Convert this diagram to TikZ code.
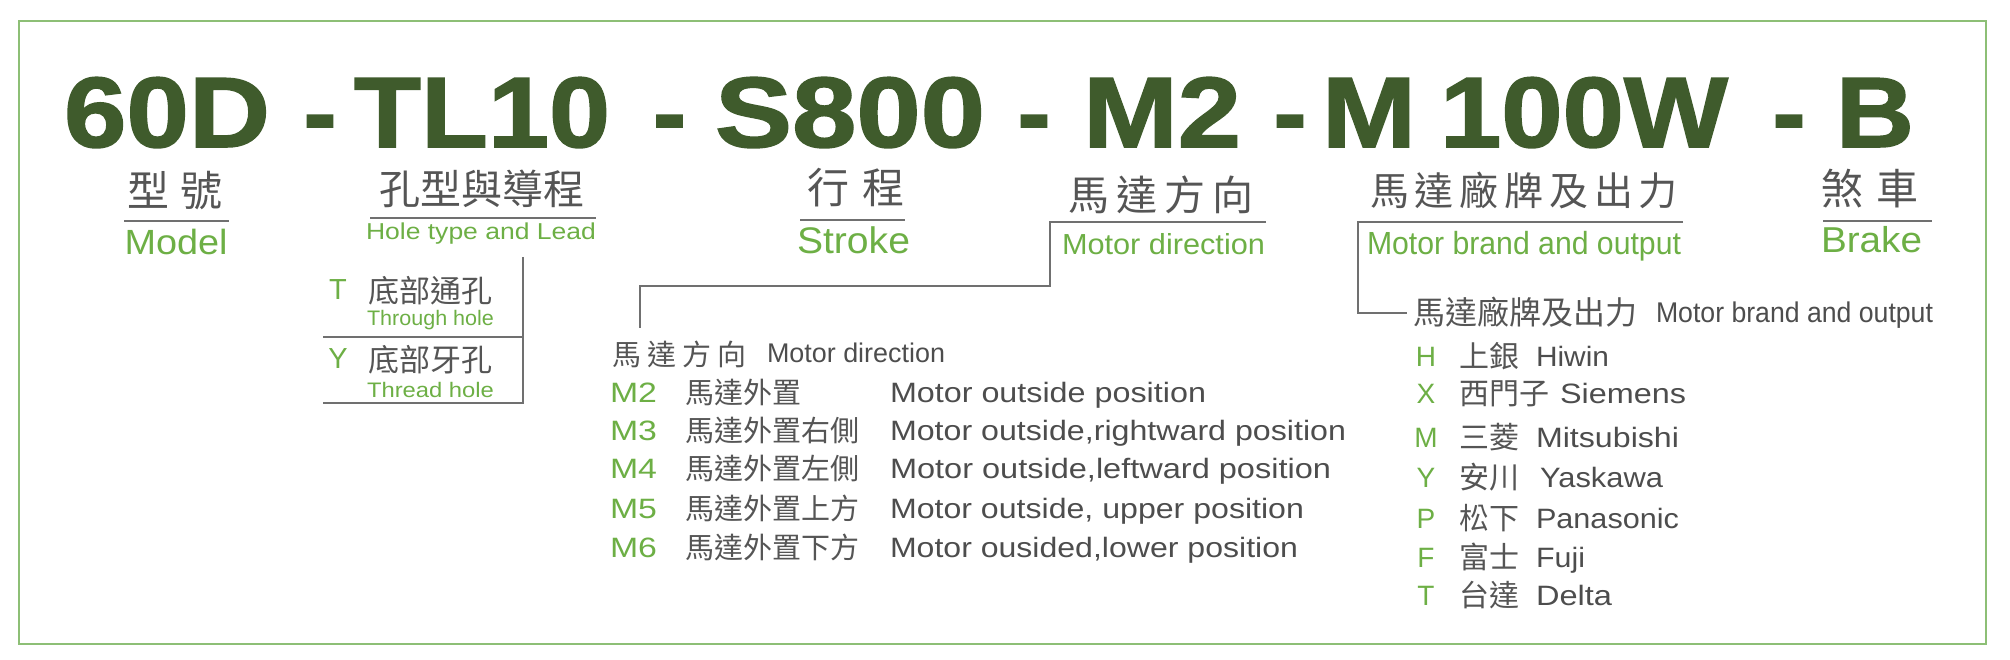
\documentclass[tikz,border=0pt]{standalone}
\usepackage{fontspec}
\usepackage{graphicx}
\setmainfont{Liberation Sans}
\newfontfamily\cjk{Noto Sans CJK TC}
\newfontfamily\bigfont[FakeBold=1.5]{Liberation Sans Bold}
\definecolor{dkgreen}{HTML}{3F5B2C}
\definecolor{ltgreen}{HTML}{6DAF45}
\definecolor{txtgray}{HTML}{555555}
\definecolor{engray}{HTML}{4D4D4D}
\definecolor{linegray}{HTML}{707070}
\definecolor{bordergreen}{HTML}{8DBF76}
\newcommand{\fs}[1]{\fontsize{#1}{#1}\selectfont}
\newcommand{\fitw}[2]{\resizebox{#1pt}{\height}{#2}}
\tikzset{
  every node/.style={inner sep=0pt, outer sep=0pt},
  code/.style={font=\bigfont\fs{100}, text=dkgreen, anchor=base west},
  dashtxt/.style={font=\bigfont\fs{100}, text=dkgreen, anchor=base},
  head/.style={font=\cjk\fs{42}, text=txtgray, anchor=center},
  sub/.style={text=ltgreen, anchor=base west},
  rule/.style={draw=linegray, line width=1.6pt},
  lbl/.style={font=\fs{28}, text=ltgreen},
  cjkrow/.style={font=\cjk\fs{29}, text=txtgray, anchor=base west},
  enrow/.style={font=\fs{28}, text=engray, anchor=base west},
}
\begin{document}
\begin{tikzpicture}[x=1pt,y=-1pt]
\useasboundingbox (0,0) rectangle (2010,660);
\draw[bordergreen, line width=2pt] (19,21) rectangle (1986,644);

% big code
\node[code] (c1) at (64,147) {\fitw{206}{60D}};
\node[dashtxt] (d1) at (320,147) {-};
\node[code] (c2) at (354,147) {\fitw{256}{TL10}};
\node[dashtxt] (d2) at (669.5,147) {-};
\node[code] (c3) at (715,147) {\fitw{270}{S800}};
\node[dashtxt] (d3) at (1034,147) {-};
\node[code] (c4) at (1083,147) {\fitw{158}{M2}};
\node[dashtxt] (d4) at (1290,147) {-};
\node[code] (c5) at (1322,147) {\fitw{94}{M}};
\node[code] (c6) at (1440,147) {\fitw{288}{100W}};
\node[dashtxt] (d5) at (1789,147) {-};
\node[code] (c7) at (1836,147) {\fitw{78}{B}};

% headings
\node[head] (h1) at (175,191) {型\hspace{12pt}號};
\node[head, font=\cjk\fs{41}] (h2) at (482,188.5) {孔型與導程};
\node[head] (h3) at (856,188) {行\hspace{14pt}程};
\node[head, font=\cjk\fs{41}] (h4) at (1161,194.5) {馬\hspace{7pt}達\hspace{7pt}方\hspace{7pt}向};
\node[head, font=\cjk\fs{39}] (h5) at (1524,190) {馬\hspace{5.8pt}達\hspace{5.8pt}廠\hspace{5.8pt}牌\hspace{5.8pt}及\hspace{5.8pt}出\hspace{5.8pt}力};
\node[head] (h6) at (1870,189) {煞\hspace{13pt}車};

% green sub labels
\node[sub, font=\fs{35}] (s1) at (124.5,255) {\fitw{103}{Model}};
\node[sub, font=\fs{23}] (s2) at (366,240) {\fitw{230}{Hole type and Lead}};
\node[sub, font=\fs{37}] (s3) at (797,254) {\fitw{113}{Stroke}};
\node[sub, font=\fs{29}] (s4) at (1062,255) {\fitw{203}{Motor direction}};
\node[sub, font=\fs{32}] (s5) at (1367,255) {\fitw{314}{Motor brand and output}};
\node[sub, font=\fs{36}] (s6) at (1821,253) {\fitw{101}{Brake}};

% rules under headings
\coordinate (m1) at (124,221); \coordinate (m2) at (229,221);
\draw[rule] (m1) -- (m2);
\coordinate (hl1) at (370,218); \coordinate (hl2) at (596,218);
\draw[rule] (hl1) -- (hl2);
\coordinate (st1) at (800,220); \coordinate (st2) at (905,220);
\draw[rule] (st1) -- (st2);
\coordinate (br1) at (1823,221); \coordinate (br2) at (1932,221);
\draw[rule] (br1) -- (br2);

% hole type box
\coordinate (hv1) at (523,257); \coordinate (hv2) at (523,403);
\coordinate (hm1) at (323,337); \coordinate (hm2) at (523,337);
\coordinate (hb1) at (323,403);
\draw[rule] (hv1) -- (hv2) -- (hb1);
\draw[rule] (hm1) -- (hm2);
\node[lbl, anchor=base, font=\fs{29}] (tT) at (338,300) {T};
\node[font=\cjk\fs{31}, text=txtgray] (tTc) at (430,291) {底部通孔};
\node[sub, font=\fs{21}] (tTe) at (367,325) {\fitw{127}{Through hole}};
\node[lbl, anchor=base, font=\fs{29}] (tY) at (338,368) {Y};
\node[font=\cjk\fs{31}, text=txtgray] (tYc) at (430,360) {底部牙孔};
\node[sub, font=\fs{21}] (tYe) at (367,397) {\fitw{127}{Thread hole}};

% motor direction connector
\coordinate (md1) at (1266,222); \coordinate (md2) at (1050,222);
\coordinate (md3) at (1050,286); \coordinate (md4) at (640,286);
\coordinate (md5) at (640,328);
\draw[rule] (md1) -- (md2) -- (md3) -- (md4) -- (md5);

% motor direction list
\node[font=\cjk\fs{29}, text=txtgray] (dh) at (679.5,354) {馬\hspace{6pt}達\hspace{6pt}方\hspace{6pt}向};
\node[enrow, font=\fs{27}] (dhe) at (767,362) {\fitw{178}{Motor direction}};
\node[lbl, anchor=base west] (l2) at (610,402) {\fitw{47}{M2}};
\node[cjkrow] (c2r) at (685,403) {馬達外置};
\node[enrow] (e2) at (890,402) {\fitw{316}{Motor outside position}};
\node[lbl, anchor=base west] (l3) at (610,440) {\fitw{47}{M3}};
\node[cjkrow] (c3r) at (685,441) {馬達外置右側};
\node[enrow] (e3) at (890,440) {\fitw{456}{Motor outside,rightward position}};
\node[lbl, anchor=base west] (l4) at (610,478) {\fitw{47}{M4}};
\node[cjkrow] (c4r) at (685,479) {馬達外置左側};
\node[enrow] (e4) at (890,478) {\fitw{441}{Motor outside,leftward position}};
\node[lbl, anchor=base west] (l5) at (610,518) {\fitw{47}{M5}};
\node[cjkrow] (c5r) at (685,519) {馬達外置上方};
\node[enrow] (e5) at (890,518) {\fitw{414}{Motor outside, upper position}};
\node[lbl, anchor=base west] (l6) at (610,557) {\fitw{47}{M6}};
\node[cjkrow] (c6r) at (685,558) {馬達外置下方};
\node[enrow] (e6) at (890,557) {\fitw{408}{Motor ousided,lower position}};

% motor brand connector
\coordinate (mb1) at (1683,222); \coordinate (mb2) at (1358,222);
\coordinate (mb3) at (1358,313); \coordinate (mb4) at (1407,313);
\draw[rule] (mb1) -- (mb2) -- (mb3) -- (mb4);

% brand list
\node[font=\cjk\fs{32}, text=txtgray] (bh) at (1525,312.5) {馬達廠牌及出力};
\node[enrow, font=\fs{28.5}] (bhe) at (1656,322) {\fitw{277}{Motor brand and output}};
\node[lbl, anchor=base] (bH) at (1426,366) {H};
\node[cjkrow, font=\cjk\fs{30}] (bHc) at (1459,367) {上銀};
\node[enrow] (bHe) at (1536,366) {\fitw{73}{Hiwin}};
\node[lbl, anchor=base] (bX) at (1426,403) {X};
\node[cjkrow, font=\cjk\fs{30}] (bXc) at (1459,404) {西門子};
\node[enrow] (bXe) at (1560,403) {\fitw{126}{Siemens}};
\node[lbl, anchor=base] (bM) at (1426,447) {M};
\node[cjkrow, font=\cjk\fs{30}] (bMc) at (1459,448) {三菱};
\node[enrow] (bMe) at (1536,447) {\fitw{143}{Mitsubishi}};
\node[lbl, anchor=base] (bY) at (1426,487) {Y};
\node[cjkrow, font=\cjk\fs{30}] (bYc) at (1459,488) {安川};
\node[enrow] (bYe) at (1540,487) {\fitw{123}{Yaskawa}};
\node[lbl, anchor=base] (bP) at (1426,528) {P};
\node[cjkrow, font=\cjk\fs{30}] (bPc) at (1459,529) {松下};
\node[enrow] (bPe) at (1536,528) {\fitw{143}{Panasonic}};
\node[lbl, anchor=base] (bF) at (1426,567) {F};
\node[cjkrow, font=\cjk\fs{30}] (bFc) at (1459,568) {富士};
\node[enrow] (bFe) at (1536,567) {\fitw{49}{Fuji}};
\node[lbl, anchor=base] (bT) at (1426,605) {T};
\node[cjkrow, font=\cjk\fs{30}] (bTc) at (1459,606) {台達};
\node[enrow] (bTe) at (1536,605) {\fitw{76}{Delta}};
\end{tikzpicture}
\end{document}
